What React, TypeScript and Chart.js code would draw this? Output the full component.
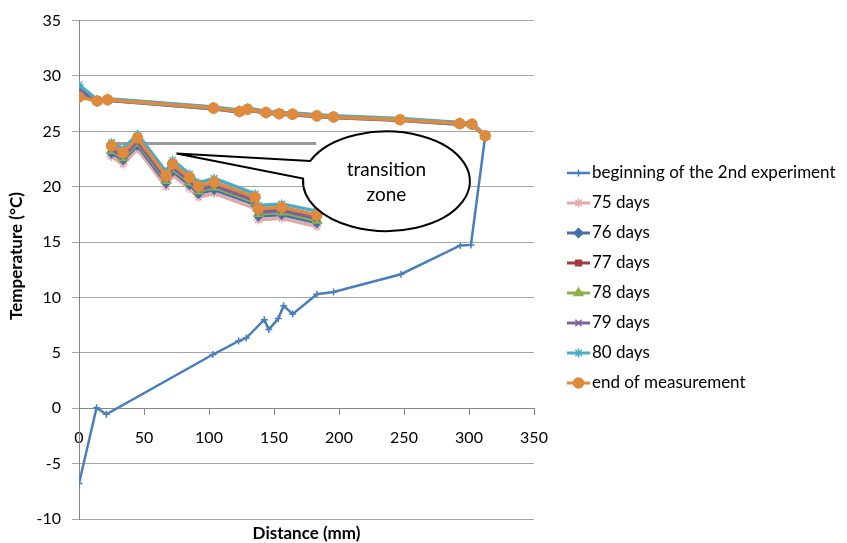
import React, { useEffect, useRef } from 'react';
import { Chart, registerables } from 'chart.js';
import { drawPoint } from 'chart.js/helpers';

Chart.register(...registerables);

const FONT_FAMILY = 'Lato, "Noto Sans", sans-serif';

// Axis ticks
const xTickValues = [0, 50, 100, 150, 200, 250, 300, 350];
const yTickValues = [-10, -5, 0, 5, 10, 15, 20, 25, 30, 35];

// Series labels
const seriesLabels = [
  'beginning of the 2nd experiment',
  '75 days',
  '76 days',
  '77 days',
  '78 days',
  '79 days',
  '80 days',
  'end of measurement',
];

// Start of the 2nd experiment (distance mm, temperature °C)
const startDistance = [0, 13.5, 21, 103, 122.8, 128.7, 142.5, 146, 153.3, 157.4, 164.3, 183, 195.8, 247.7, 293.3, 301.5, 312.5];
const startTemp = [-6.8, 0.05, -0.55, 4.85, 6.07, 6.34, 8.0, 7.1, 8.1, 9.26, 8.5, 10.3, 10.5, 12.1, 14.7, 14.75, 24.6];

// Upper sensor row and transition-zone sensor row
const upperDistance = [0, 14, 22, 103.5, 123.5, 129.7, 143.8, 154, 164.3, 183, 195.8, 247, 292.8, 302.3, 312.5];
const zoneDistance = [25, 34, 45, 67, 72, 85, 92, 104, 135.5, 138, 156, 183];

const upper75 = [28.6, 27.7, 27.8, 27.05, 26.75, 26.95, 26.65, 26.55, 26.5, 26.35, 26.25, 26.0, 25.65, 25.6, 24.55];
const zone75 = [22.7, 22.05, 23.4, 20.0, 21.05, 19.85, 19.05, 19.4, 18.05, 17.0, 17.15, 16.4];

const upper76 = [28.5, 27.7, 27.8, 27.05, 26.75, 26.95, 26.65, 26.55, 26.5, 26.35, 26.25, 26.0, 25.65, 25.6, 24.55];
const zone76 = [23.05, 22.45, 23.75, 20.35, 21.4, 20.2, 19.4, 19.75, 18.4, 17.35, 17.5, 16.75];

const upper77 = [28.8, 27.8, 27.9, 27.15, 26.85, 27.05, 26.75, 26.65, 26.6, 26.45, 26.35, 26.1, 25.75, 25.7, 24.6];
const zone77 = [23.65, 23.0, 24.35, 20.95, 22.0, 20.8, 20.0, 20.35, 19.0, 17.95, 18.1, 17.35];

const upper78 = [28.6, 27.75, 27.85, 27.1, 26.8, 27.0, 26.7, 26.6, 26.55, 26.4, 26.3, 26.05, 25.7, 25.65, 24.55];
const zone78 = [23.25, 22.6, 23.95, 20.55, 21.6, 20.4, 19.6, 19.95, 18.6, 17.55, 17.7, 16.95];

const upper79 = [28.7, 27.75, 27.85, 27.1, 26.8, 27.0, 26.7, 26.6, 26.55, 26.4, 26.3, 26.05, 25.7, 25.65, 24.6];
const zone79 = [23.4, 22.75, 24.1, 20.7, 21.75, 20.55, 19.75, 20.1, 18.75, 17.7, 17.85, 17.15];

const upper80 = [29.2, 27.85, 27.95, 27.2, 26.9, 27.1, 26.8, 26.7, 26.65, 26.5, 26.4, 26.15, 25.8, 25.75, 24.65];
const zone80 = [24.0, 23.4, 24.75, 21.35, 22.4, 21.15, 20.35, 20.75, 19.35, 18.3, 18.45, 17.8];

const upperEnd = [28.1, 27.75, 27.85, 27.1, 26.8, 27.0, 26.7, 26.6, 26.55, 26.4, 26.3, 26.05, 25.7, 25.65, 24.6];
const zoneEnd = [23.7, 23.1, 24.4, 21.0, 22.05, 20.85, 20.05, 20.4, 19.05, 18.0, 18.15, 17.45];

// Transition-zone marker line and callout (data units)
const transitionLine = { x0: 26, x1: 182.5, y: 23.9 };
const callout = { cx: 236.5, cy: 20.5, rx: 64.2, ry: 4.5, tipX: 75, tipY: 23.0 };
const calloutText = ['transition', 'zone'];

type Style = { color: string; pointStyle: string; radius: number; width: number };
const styles: Style[] = [
  { color: '#4A7EBB', pointStyle: 'cross', radius: 3.5, width: 2.5 },
  { color: '#E3A9A8', pointStyle: 'star', radius: 4.5, width: 3.5 },
  { color: '#4470AE', pointStyle: 'rectRot', radius: 4.5, width: 3.5 },
  { color: '#A5393B', pointStyle: 'rect', radius: 4, width: 3.5 },
  { color: '#8DB04A', pointStyle: 'triangle', radius: 5, width: 3.5 },
  { color: '#7D60A0', pointStyle: 'crossRot', radius: 4.5, width: 3.5 },
  { color: '#4BACC6', pointStyle: 'star', radius: 4.5, width: 3.5 },
  { color: '#DF8A3D', pointStyle: 'circle', radius: 5, width: 3.5 },
];

const pairs = (xs: number[], ys: number[]) => xs.map((x, i) => ({ x, y: ys[i] }));
const withGap = (upper: number[], zone: number[]) => [
  ...pairs(upperDistance, upper),
  { x: 24, y: null },
  ...pairs(zoneDistance, zone),
];

const seriesPoints = [
  pairs(startDistance, startTemp),
  withGap(upper75, zone75),
  withGap(upper76, zone76),
  withGap(upper77, zone77),
  withGap(upper78, zone78),
  withGap(upper79, zone79),
  withGap(upper80, zone80),
  withGap(upperEnd, zoneEnd),
];

const decorPlugin = {
  id: 'decor',
  beforeDatasetsDraw(chart: any) {
    const { ctx, scales } = chart;
    const x = scales.x;
    const y = scales.y;
    ctx.save();
    ctx.strokeStyle = '#9A9A9A';
    ctx.lineWidth = 3;
    ctx.beginPath();
    ctx.moveTo(x.getPixelForValue(transitionLine.x0), y.getPixelForValue(transitionLine.y));
    ctx.lineTo(x.getPixelForValue(transitionLine.x1), y.getPixelForValue(transitionLine.y));
    ctx.stroke();
    ctx.restore();
  },
  afterDatasetsDraw(chart: any) {
    const { ctx, scales } = chart;
    const x = scales.x;
    const y = scales.y;
    const cx = x.getPixelForValue(callout.cx);
    const cy = y.getPixelForValue(callout.cy);
    const rx = x.getPixelForValue(callout.cx + callout.rx) - cx;
    const ry = y.getPixelForValue(callout.cy - callout.ry) - cy;
    const tx = x.getPixelForValue(callout.tipX);
    const ty = y.getPixelForValue(callout.tipY);
    const a0 = (-156 * Math.PI) / 180;
    const a1 = (183 * Math.PI) / 180;
    ctx.save();
    ctx.beginPath();
    ctx.moveTo(tx, ty);
    ctx.lineTo(cx + rx * Math.cos(a0), cy + ry * Math.sin(a0));
    ctx.ellipse(cx, cy, rx, ry, 0, a0, a1, false);
    ctx.closePath();
    ctx.fillStyle = '#FFFFFF';
    ctx.fill();
    ctx.strokeStyle = '#000000';
    ctx.lineWidth = 2;
    ctx.stroke();
    ctx.fillStyle = '#000000';
    ctx.font = `19px ${FONT_FAMILY}`;
    ctx.textAlign = 'center';
    ctx.textBaseline = 'middle';
    ctx.fillText(calloutText[0], cx, cy - 11);
    ctx.fillText(calloutText[1], cx, cy + 14);
    ctx.restore();
  },
  afterDraw(chart: any) {
    const { ctx, chartArea } = chart;
    ctx.save();
    // axis titles
    ctx.fillStyle = '#000000';
    ctx.font = `bold 17px ${FONT_FAMILY}`;
    ctx.textAlign = 'center';
    ctx.textBaseline = 'middle';
    ctx.fillText('Distance (mm)', (chartArea.left + chartArea.right) / 2, 534);
    ctx.save();
    ctx.translate(17, 256);
    ctx.rotate(-Math.PI / 2);
    ctx.fillText('Temperature (°C)', 0, 0);
    ctx.restore();

    // legend
    const lx0 = 567;
    const lx1 = 590;
    const top = 173;
    const step = 30;
    chart.data.datasets.forEach((ds: any, i: number) => {
      const yy = top + i * step;
      ctx.strokeStyle = ds.borderColor;
      ctx.lineWidth = Math.min(ds.borderWidth, 3);
      ctx.beginPath();
      ctx.moveTo(lx0, yy);
      ctx.lineTo(lx1, yy);
      ctx.stroke();
      ctx.fillStyle = ds.pointBackgroundColor;
      ctx.strokeStyle = ds.pointBorderColor;
      ctx.lineWidth = ds.pointBorderWidth;
      drawPoint(ctx, { pointStyle: ds.pointStyle, radius: ds.pointRadius, rotation: 0, borderWidth: ds.pointBorderWidth }, (lx0 + lx1) / 2, yy);
      ctx.fillStyle = '#000000';
      ctx.font = `17px ${FONT_FAMILY}`;
      ctx.textAlign = 'left';
      ctx.textBaseline = 'middle';
      ctx.fillText(ds.label, 592, yy);
    });
    ctx.restore();
  },
};

export default function App() {
  const canvasRef = useRef<HTMLCanvasElement | null>(null);

  useEffect(() => {
    const canvas = canvasRef.current;
    if (!canvas) return;

    const datasets = seriesPoints.map((pts, i) => ({
      label: seriesLabels[i],
      data: pts,
      borderColor: styles[i].color,
      backgroundColor: styles[i].color,
      borderWidth: styles[i].width,
      pointStyle: styles[i].pointStyle,
      pointRadius: styles[i].radius,
      pointBackgroundColor: styles[i].color,
      pointBorderColor: styles[i].color,
      pointBorderWidth: 1.5,
      tension: 0,
      spanGaps: false,
      order: seriesPoints.length - i,
    }));

    const tickFont = { family: FONT_FAMILY, size: 16 };

    const chart = new Chart(canvas, {
      type: 'line',
      data: { datasets } as any,
      options: {
        responsive: false,
        animation: false,
        devicePixelRatio: 1,
        layout: { padding: { left: 0, top: 15, right: 313, bottom: 24 } },
        plugins: {
          legend: { display: false },
          tooltip: { enabled: false },
        },
        scales: {
          x: {
            type: 'linear',
            position: { y: 0 } as any,
            min: xTickValues[0],
            max: xTickValues[xTickValues.length - 1],
            afterBuildTicks: (s: any) => {
              s.ticks = xTickValues.map((v) => ({ value: v }));
            },
            ticks: { font: tickFont, color: '#000000', padding: 14, maxRotation: 0 },
            grid: { drawOnChartArea: false, drawTicks: true, tickLength: 6, color: '#868686' },
            border: { color: '#868686', width: 1 },
          },
          y: {
            type: 'linear',
            position: 'left',
            min: yTickValues[0],
            max: yTickValues[yTickValues.length - 1],
            afterBuildTicks: (s: any) => {
              s.ticks = yTickValues.map((v) => ({ value: v }));
            },
            afterFit: (s: any) => {
              s.width = 79;
            },
            ticks: { font: tickFont, color: '#000000', padding: 11 },
            grid: { color: '#A6A6A6', tickLength: 7, lineWidth: 1 },
            border: { color: '#868686', width: 1 },
          },
        },
      } as any,
      plugins: [decorPlugin],
    });

    return () => chart.destroy();
  }, []);

  return (
    <div style={{ position: 'fixed', left: 0, top: 0, width: 847, height: 543, background: '#ffffff' }}>
      <canvas ref={canvasRef} width={847} height={543} style={{ display: 'block' }} />
    </div>
  );
}
